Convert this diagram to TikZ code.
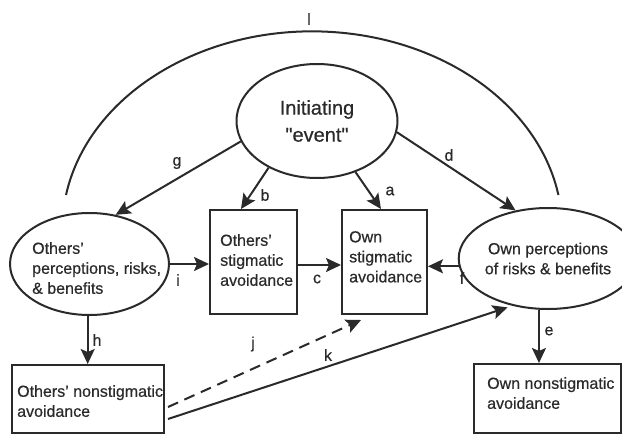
\documentclass[tikz,border=0pt]{standalone}
\usepackage{fontspec}
\setmainfont[FakeBold=0.5]{Liberation Sans}
\newfontfamily\plainsans[FakeBold=0.5]{Liberation Sans}
\usetikzlibrary{arrows.meta,shapes.geometric,calc}
\definecolor{ink}{HTML}{2A2A2A}
\begin{document}
\begin{tikzpicture}[x=1pt,y=-1pt,
  ell/.style={ellipse, draw=ink, line width=2pt, inner sep=0pt, text=ink},
  box/.style={rectangle, draw=ink, line width=2pt, inner sep=0pt},
  txt/.style={inner sep=0pt, align=left, text=ink, font=\fontsize{16}{20}\selectfont},
  lab/.style={inner sep=0pt, text=ink, font=\fontsize{16}{20}\selectfont},
  arr/.style={draw=ink, line width=2pt, -{Stealth[length=15pt,width=14pt,inset=3pt]}},
  conn/.style={draw=ink, line width=2pt}]
\useasboundingbox (0,0) rectangle (622,437);
\fill[white] (0,0) rectangle (622,437);

% nodes
\node[ell, minimum width=161pt, minimum height=114pt, align=center,
      font=\plainsans\fontsize{20}{27}\selectfont] (init) at (317,121) {Initiating\\"event"};
\node[ell, minimum width=159pt, minimum height=102pt] (oper) at (89.5,264) {};
\node[txt, anchor=north west] (opertxt) at (32,242) {Others'\\perceptions, risks,\\\& benefits};
\node[box, minimum width=87pt, minimum height=104pt] (osa) at (253.5,262) {};
\node[txt, anchor=north west] (osatxt) at (220,234) {Others'\\stigmatic\\avoidance};
\node[box, minimum width=85pt, minimum height=104pt] (own) at (384.5,262) {};
\node[txt, anchor=north west] (owntxt) at (349,231) {Own\\stigmatic\\avoidance};
\node[ell, minimum width=146pt, minimum height=101pt, align=center,
      font=\fontsize{16}{20}\selectfont] (ownp) at (548,258.5) {Own perceptions\\of risks \& benefits};
\node[box, minimum width=152pt, minimum height=68pt] (ons) at (88,399) {};
\node[txt, anchor=north west] (onstxt) at (17,385) {Others' nonstigmatic\\avoidance};
\node[box, minimum width=147pt, minimum height=69pt] (owns) at (547.5,398.5) {};
\node[txt, anchor=north west] (ownstxt) at (487,377) {Own nonstigmatic\\avoidance};

% arc l
\coordinate (lstart) at (66,195);
\draw[conn] (lstart) arc[start angle=170, end angle=10, x radius=250pt, y radius=198pt];
\node[lab] (ll) at (309,19) {l};

% connectors
\draw[arr] (init.195) -- (oper.62);
\node[lab] (lg) at (177,163) {g};
\draw[arr] (init.224) -- ($(osa.north)+(-12.5,0)$);
\node[lab] (lb) at (265,195) {b};
\draw[arr] (init.307) -- ($(own.north)+(-3.5,0)$);
\node[lab] (la) at (390,191) {a};
\draw[arr] (init.352) -- (ownp.124);
\node[lab] (ld) at (449,155) {d};
\draw[arr] (oper.east) -- (oper.east -| osa.west);
\node[lab] (li) at (178,280) {i};
\draw[arr] ($(osa.east)+(0,3)$) -- ($(own.west)+(0,3)$);
\node[lab] (lc) at (317,279) {c};
\draw[arr] (ownp.185) -- (ownp.185 -| own.east);
\node[lab] (lf) at (462,278) {f};
\draw[arr] (oper.268) -- (oper.268 |- ons.north);
\node[lab] (lh) at (97,340) {h};
\draw[arr] (ownp.260) -- (ownp.260 |- owns.north);
\node[lab] (le) at (549,331) {e};
\draw[arr, dash pattern=on 11pt off 7pt] ($(ons.east)+(3,8)$) -- ($(own.south west)+(20,5)$);
\node[lab] (lj) at (253,344) {j};
\draw[arr, shorten >=5pt] ($(ons.east)+(3,20)$) -- (ownp.233);
\node[lab] (lk) at (328,355) {k};
\end{tikzpicture}
\end{document}
